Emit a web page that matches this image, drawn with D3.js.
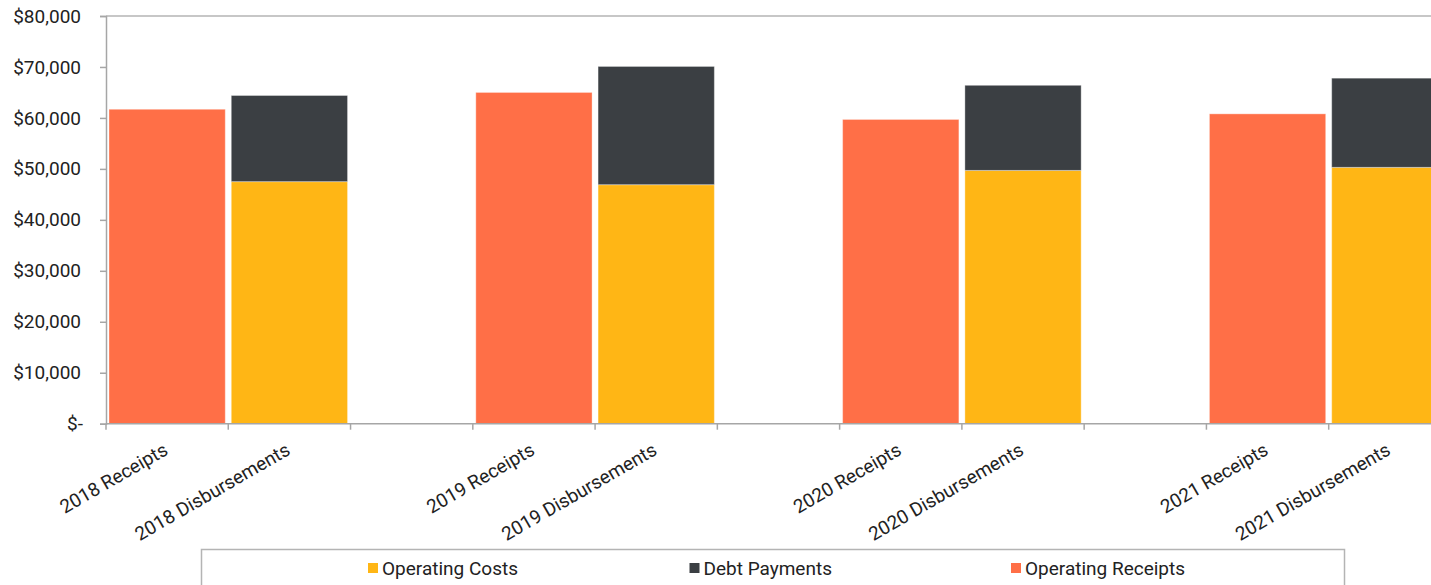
<!DOCTYPE html>
<html><head><meta charset="utf-8">
<script src="https://cdn.jsdelivr.net/npm/d3@7"></script>
<style>
html,body{margin:0;padding:0;background:#fff;}
svg{display:block;font-family:Roboto, "Liberation Sans", sans-serif;}
</style></head>
<body><svg id="chart" width="1431" height="585"></svg>
<script>
// ---- data ----
const slots = ["2018 Receipts","2018 Disbursements","gap-2018","2019 Receipts","2019 Disbursements","gap-2019","2020 Receipts","2020 Disbursements","gap-2020","2021 Receipts","2021 Disbursements"];
const tickLabels = ["2018 Receipts","2018 Disbursements","","2019 Receipts","2019 Disbursements","","2020 Receipts","2020 Disbursements","","2021 Receipts","2021 Disbursements"];
const operatingCosts    = [0, 47500, 0, 0, 46900, 0, 0, 49700, 0, 0, 50300];
const debtPayments      = [0, 16900, 0, 0, 23200, 0, 0, 16700, 0, 0, 17500];
const operatingReceipts = [61700, 0, 0, 65000, 0, 0, 59700, 0, 0, 60800, 0];
const seriesNames = ["Operating Costs","Debt Payments","Operating Receipts"];
const seriesColors = ["#FFB615","#3B3F43","#FF6F47"];
const yTicks = [0,10000,20000,30000,40000,50000,60000,70000,80000];

// ---- layout ----
const W = 1431, H = 585;
const m = {left:106, top:16, bottom:162};
const step = 122.27;
const svg = d3.select("#chart");

const x = d3.scaleBand().domain(slots).range([m.left, m.left + step*slots.length]).padding(0);
const y = d3.scaleLinear().domain([0,80000]).range([H - m.bottom + 0.7, m.top]);

const rows = slots.map((s,i)=>({slot:s, oc:operatingCosts[i], dp:debtPayments[i], or:operatingReceipts[i]}));
const stack = d3.stack().keys(["oc","dp","or"])(rows);

const inset = 3;
const g = svg.append("g");
stack.forEach((layer, li) => {
  g.selectAll(null).data(layer.filter(d => d[1] - d[0] > 0)).join("rect")
    .attr("x", d => x(d.data.slot) + inset)
    .attr("width", x.bandwidth() - 2*inset)
    .attr("y", d => y(d[1]))
    .attr("height", d => y(d[0]) - y(d[1]))
    .attr("fill", seriesColors[li])
    .attr("stroke", "#fff").attr("stroke-opacity", 0.35).attr("stroke-width", 1);
});

// frame (top border)
svg.append("line")
  .attr("x1", m.left).attr("x2", x.range()[1])
  .attr("y1", y(80000)).attr("y2", y(80000))
  .attr("stroke", "#b4b4b4").attr("stroke-width", 1.5);

// y axis
const fmt = v => v === 0 ? "$-" : "$" + d3.format(",")(v);
const yAxis = svg.append("g").attr("transform", `translate(${m.left},0)`)
  .call(d3.axisLeft(y).tickValues(yTicks).tickSize(6).tickFormat(fmt));
yAxis.select(".domain").attr("stroke", "#a6a6a6").attr("stroke-width", 1.5);
yAxis.selectAll(".tick line").attr("stroke", "#a6a6a6").attr("stroke-width", 1.5);
yAxis.selectAll(".tick text").attr("x", -25).attr("font-size", 19).attr("fill", "#222")
  .attr("font-family", "Roboto");
yAxis.selectAll(".tick text").filter(d => d === 0).attr("x", -23);

// x axis
const xAxis = svg.append("g").attr("transform", `translate(0,${y(0)})`);
xAxis.append("line").attr("x1", m.left).attr("x2", x.range()[1])
  .attr("stroke", "#a6a6a6").attr("stroke-width", 1.5);
xAxis.selectAll(".xt").data(slots).join("line").attr("class","xt")
  .attr("x1", d => x(d)).attr("x2", d => x(d)).attr("y1", 0).attr("y2", 6)
  .attr("stroke", "#a6a6a6").attr("stroke-width", 1.5);
xAxis.selectAll(".xl").data(slots).join("text").attr("class","xl")
  .attr("transform", d => `translate(${x(d) + x.bandwidth()/2 + 2},30) rotate(-30)`)
  .attr("text-anchor", "end").attr("font-size", 19).attr("fill", "#222")
  .text((d,i) => tickLabels[i]);

// legend
const lg = svg.append("g");
lg.append("rect").attr("x", 201.5).attr("y", 549.5).attr("width", 1143).attr("height", 60)
  .attr("fill", "#fff").attr("stroke", "#b4b4b4").attr("stroke-width", 1.5);
const lx = d3.scalePoint().domain(seriesNames).range([368, 1011]);
const items = lg.selectAll(null).data(seriesNames).join("g")
  .attr("transform", d => `translate(${lx(d)},568)`);
items.append("rect").attr("x", 0).attr("y", -5).attr("width", 10).attr("height", 10)
  .attr("fill", (d,i) => seriesColors[i]);
items.append("text").attr("x", 14).attr("dy", "0.35em").attr("font-size", 19).attr("fill", "#222")
  .text(d => d);
</script>
</body></html>
